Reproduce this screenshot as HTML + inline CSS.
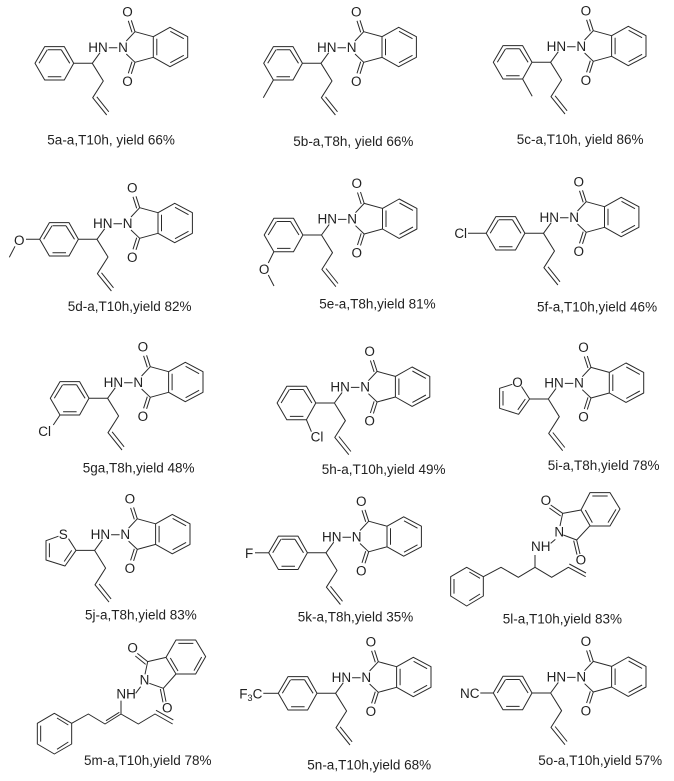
<!DOCTYPE html>
<html><head><meta charset="utf-8"><style>
html,body{margin:0;padding:0;background:#fff}
svg{display:block}
text{font-family:"Liberation Sans",sans-serif;font-size:13.5px;fill:#222}
.b{fill:none;stroke:#2a2a2a;stroke-width:1;stroke-linejoin:round}
.s text{font-size:40.5px}
.s .b{stroke-width:3}
</style></head><body>
<svg width="674" height="781" viewBox="0 0 674 781" xmlns="http://www.w3.org/2000/svg">
<defs>
<path id="core" class="b" d="M0 0L7.7 -10.6M16.5 -15.6H25M34 -22.3L42.7 -31.6L61 -26.6V-6L42.7 -1L34 -9.3M42.7 -31.6L39 -43M39.7 -31L36 -42.5M42.7 -1L39 10.5M39.7 -1.6L36 10M61 -26.6L77.7 -36L95.4 -26.6V-6L77.7 3.4L61 -6M78 -32L91.5 -24.6M91.5 -8L78 -0.6M64.5 -24.5V-8M0 0L11 17.7L0.4 34.4L14.4 51.7M4.5 33.5L16.5 48.5"/>
<path id="ph" class="b" d="M0 0H-18.6L-28 -16.7H-47.6L-57.3 0L-47.6 16.7H-28L-18.6 0M-44.5 -13.5H-31M-53.3 0L-45 -13.5M-44.5 13.4H-31M-22.5 0L-31 -13.5"/>
</defs>

<!-- 5a -->
<g transform="translate(92.3,63.3)"><use href="#ph"/><use href="#core"/>
<text x="-4" y="-11.3">HN</text><text x="25.8" y="-11.3">N</text><text x="30" y="-46.8">O</text><text x="30" y="22.7">O</text></g>
<text x="47.3" y="144.3">5a-a,T10h, yield 66%</text>

<!-- 5b -->
<g transform="translate(321,63.3)"><use href="#ph"/><use href="#core"/><path class="b" d="M-47.6 16.7L-57.7 34.4"/>
<text x="-4" y="-11.3">HN</text><text x="25.8" y="-11.3">N</text><text x="30" y="-46.8">O</text><text x="30" y="22.7">O</text></g>
<text x="293.3" y="146">5b-a,T8h, yield 66%</text>

<!-- 5c -->
<g transform="translate(550.6,62.3)"><use href="#ph"/><use href="#core"/><path class="b" d="M-28 16.7L-18.4 34"/>
<text x="-4" y="-11.3">HN</text><text x="25.8" y="-11.3">N</text><text x="30" y="-46.8">O</text><text x="30" y="22.7">O</text></g>
<text x="516.7" y="144">5c-a,T10h, yield 86%</text>

<!-- 5d -->
<g transform="translate(97,239.3)"><use href="#ph"/><use href="#core"/><path class="b" d="M-57.3 0H-71M-82 7L-87.7 18"/>
<text x="-4" y="-11.3">HN</text><text x="25.8" y="-11.3">N</text><text x="30" y="-46.8">O</text><text x="30" y="22.7">O</text><text x="-83" y="5.5">O</text></g>
<text x="67.7" y="311">5d-a,T10h,yield 82%</text>

<!-- 5e -->
<g transform="translate(321.5,235)"><use href="#ph"/><use href="#core"/><path class="b" d="M-47.6 16.7L-53.2 28M-53.2 40L-47.5 51"/>
<text x="-4" y="-11.3">HN</text><text x="25.8" y="-11.3">N</text><text x="30" y="-46.8">O</text><text x="30" y="22.7">O</text><text x="-62.7" y="38.8">O</text></g>
<text x="319.3" y="308.3">5e-a,T8h,yield 81%</text>

<!-- 5f -->
<g transform="translate(543.5,233.3)"><use href="#ph"/><use href="#core"/><path class="b" d="M-57.3 0H-75.5"/>
<text x="-4" y="-11.3">HN</text><text x="25.8" y="-11.3">N</text><text x="30" y="-46.8">O</text><text x="30" y="22.7">O</text><text x="-89.2" y="4.5">Cl</text></g>
<text x="537" y="311.7">5f-a,T10h,yield 46%</text>

<!-- 5g -->
<g transform="translate(107.6,398.3)"><use href="#ph"/><use href="#core"/><path class="b" d="M-47.6 16.7L-54.3 26.7"/>
<text x="-4" y="-11.3">HN</text><text x="25.8" y="-11.3">N</text><text x="30" y="-46.8">O</text><text x="30" y="22.7">O</text><text x="-69.3" y="37.7">Cl</text></g>
<text x="82.7" y="472.7">5ga,T8h,yield 48%</text>

<!-- 5h -->
<g transform="translate(334.4,403)"><use href="#ph"/><use href="#core"/><path class="b" d="M-28 16.7L-23 28.7"/>
<text x="-4" y="-11.3">HN</text><text x="25.8" y="-11.3">N</text><text x="30" y="-46.8">O</text><text x="30" y="22.7">O</text><text x="-23.8" y="38.7">Cl</text></g>
<text x="321.7" y="474">5h-a,T10h,yield 49%</text>

<!-- 5i -->
<g transform="translate(548.3,399)"><use href="#core"/><path class="b" d="M0 0H-18.7L-29.7 15.3L-48.7 9.3V-10.7L-36 -14.7M-26.8 -12.5L-18.7 0M-23 0L-30.5 10.8M-45.3 6.5V-8"/>
<text x="-4" y="-11.3">HN</text><text x="25.8" y="-11.3">N</text><text x="30" y="-46.8">O</text><text x="30" y="22.7">O</text><text x="-36" y="-11.8">O</text></g>
<text x="547.7" y="470">5i-a,T8h,yield 78%</text>

<!-- 5j -->
<g transform="translate(94.6,550.4)"><use href="#core"/><path class="b" d="M0 0H-18.6L-29.6 15.6L-48.6 9.6V-9.7L-36.1 -14.2M-26.1 -11.7L-18.6 0M-22.9 0L-30.4 11.1M-45.2 6.8V-7.2"/>
<text x="-4" y="-11.3">HN</text><text x="25.8" y="-11.3">N</text><text x="30" y="-46.8">O</text><text x="30" y="22.7">O</text><text x="-35.8" y="-11.5">S</text></g>
<text x="85" y="619.3">5j-a,T8h,yield 83%</text>

<!-- 5k -->
<g transform="translate(326,552.8)"><use href="#ph"/><use href="#core"/><path class="b" d="M-57.3 0H-71"/>
<text x="-4" y="-11.3">HN</text><text x="25.8" y="-11.3">N</text><text x="30" y="-46.8">O</text><text x="30" y="22.7">O</text><text x="-81" y="5">F</text></g>
<text x="297.7" y="621.7">5k-a,T8h,yield 35%</text>

<!-- 5l -->
<g class="s" transform="translate(430,480) scale(.33333)">
<path class="b" d="M110 262L160 290V348L110 378L62 348V290ZM118 276L150 295M150 342L118 362M72 297V341M160 290L213 262L265 292L315 262L365 292L415 262L467 290M418 252L468 279M315 262V225M362 190L376 178M390 138L398 100L453 90L480 137L440 180L400 165M398 100L362 75M392 108L358 84M440 180L450 222M431 182L441 224M453 90L480 38H540L570 87L540 138H480M466 90L487 128M487 48H533M558 88L534 128"/>
<text x="303" y="213">NH</text><text x="373" y="169">N</text><text x="332" y="75">O</text><text x="437" y="254">O</text></g>
<text x="502.7" y="623.3">5l-a,T10h,yield 83%</text>

<!-- 5m -->
<g class="s" transform="translate(20,630) scale(.33333)">
<path class="b" d="M103 250L155 280V342L103 372L52 342V280ZM111 264L145 285M145 336L111 358M62 287V335M155 280L205 252L255 282L303 252L355 282L405 252L458 282M258 272L298 247M408 241L460 270M303 252V212M347 190L362 170M375 133L383 95L438 82L468 132L430 175L388 160M383 95L352 70M377 103L346 78M430 175L438 215M421 177L429 217M438 82L468 30H527L557 80L527 132H468M451 84L474 123M475 40H520M545 81L522 122"/>
<text x="289" y="205">NH</text><text x="359" y="163">N</text><text x="322" y="67">O</text><text x="426" y="247">O</text></g>
<text x="84" y="765">5m-a,T10h,yield 78%</text>

<!-- 5n -->
<g transform="translate(335.6,693.3)"><use href="#ph"/><use href="#core"/><path class="b" d="M-57.3 0H-72.3"/>
<text x="-4" y="-11.3">HN</text><text x="25.8" y="-11.3">N</text><text x="30" y="-46.8">O</text><text x="30" y="22.7">O</text><text x="-96.3" y="5">F<tspan dy="2.5" style="font-size:9px">3</tspan><tspan dy="-2.5">C</tspan></text></g>
<text x="307.3" y="769.3">5n-a,T10h,yield 68%</text>

<!-- 5o -->
<g transform="translate(550.6,693)"><use href="#ph"/><use href="#core"/><path class="b" d="M-57.3 0H-70.3"/>
<text x="-4" y="-11.3">HN</text><text x="25.8" y="-11.3">N</text><text x="30" y="-46.8">O</text><text x="30" y="22.7">O</text><text x="-90.6" y="5">NC</text></g>
<text x="538.3" y="765">5o-a,T10h,yield 57%</text>
</svg>
</body></html>
